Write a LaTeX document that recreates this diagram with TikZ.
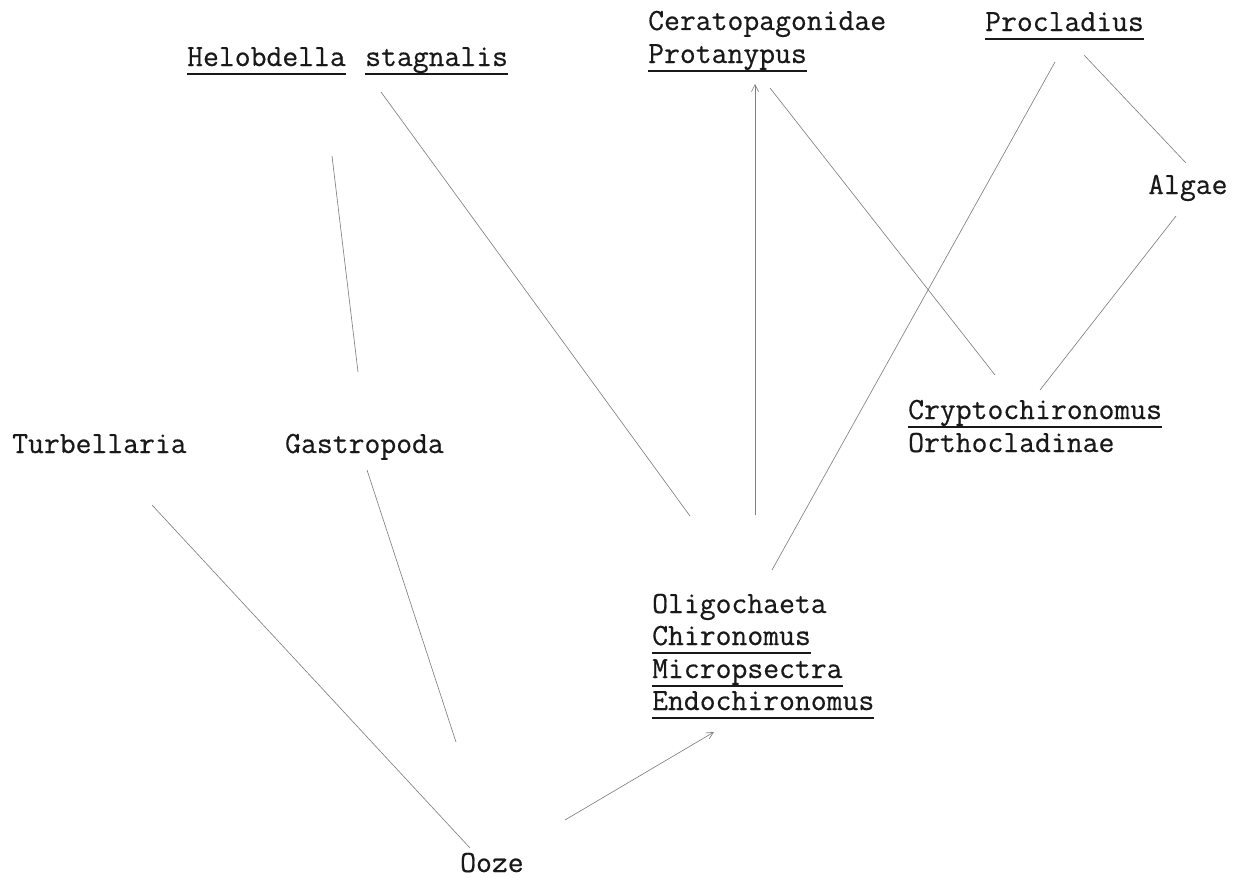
\documentclass[tikz,border=0pt]{standalone}
\usepackage{fontspec}
\newfontfamily\twfont[FakeBold=0.5]{Latin Modern Mono}
\usetikzlibrary{arrows.meta}
\begin{document}
\begin{tikzpicture}[x=1pt,y=-1pt,
  taxon/.style={font=\fontsize{30.8}{33}\selectfont\twfont, inner sep=0pt, anchor=base west, text=black!90},
  ul/.style={line width=2pt, black!90},
  link/.style={draw=black!50, line width=0.65pt},
  tip/.style={-{Straight Barb[length=7pt,width=7pt]}}]
\useasboundingbox (0,0) rectangle (1243,878);
% taxa
\node[taxon] (helo)   at (187,66)  {Helobdella};
\node[taxon] (stag)   at (365,66)  {stagnalis};
\node[taxon] (cera)   at (648,30)  {Ceratopagonidae};
\node[taxon] (prot)   at (648,63)  {Protanypus};
\node[taxon] (procl)  at (985,31)  {Procladius};
\node[taxon] (algae)  at (1148,194) {Algae};
\node[taxon] (crypt)  at (908,419) {Cryptochironomus};
\node[taxon] (ortho)  at (908,452) {Orthocladinae};
\node[taxon] (turb)   at (12,453)  {Turbellaria};
\node[taxon] (gastro) at (285,453) {Gastropoda};
\node[taxon] (oligo)  at (652,613) {Oligochaeta};
\node[taxon] (chir)   at (652,645) {Chironomus};
\node[taxon] (micro)  at (652,678) {Micropsectra};
\node[taxon] (endo)   at (652,710) {Endochironomus};
\node[taxon] (ooze)   at (460,872) {Ooze};
% underlines
\foreach \n in {helo,stag,prot,procl,crypt,chir,micro,endo}
  \draw[ul] ([yshift=-8pt]\n.base west) -- ([yshift=-8pt]\n.base east);
% connector ends
\coordinate (helo-g)  at (332,156);
\coordinate (gastro-h) at (358,372);
\coordinate (stag-o)  at (381,92);
\coordinate (oligo-s) at (690,516);
\coordinate (oligo-p) at (755,515);
\coordinate (prot-o)  at (755,84);
\coordinate (prot-c)  at (770,88);
\coordinate (crypt-p) at (995,375);
\coordinate (procl-o) at (1055,62);
\coordinate (oligo-r) at (772,570);
\coordinate (procl-a) at (1084,55);
\coordinate (algae-p) at (1186,163);
\coordinate (algae-c) at (1176,216);
\coordinate (crypt-a) at (1040,390);
\coordinate (gastro-o) at (367,470);
\coordinate (ooze-g)  at (456,742);
\coordinate (turb-o)  at (152,505);
\coordinate (ooze-t)  at (470,848);
\coordinate (ooze-e)  at (565,820);
\coordinate (endo-o)  at (714,732);
% connectors
\draw[link] (helo-g) -- (gastro-h);
\draw[link] (stag-o) -- (oligo-s);
\draw[link,tip] (oligo-p) -- (prot-o);
\draw[link] (prot-c) -- (crypt-p);
\draw[link] (procl-o) -- (oligo-r);
\draw[link] (procl-a) -- (algae-p);
\draw[link] (algae-c) -- (crypt-a);
\draw[link] (gastro-o) -- (ooze-g);
\draw[link] (turb-o) -- (ooze-t);
\draw[link,tip] (ooze-e) -- (endo-o);
\end{tikzpicture}
\end{document}
